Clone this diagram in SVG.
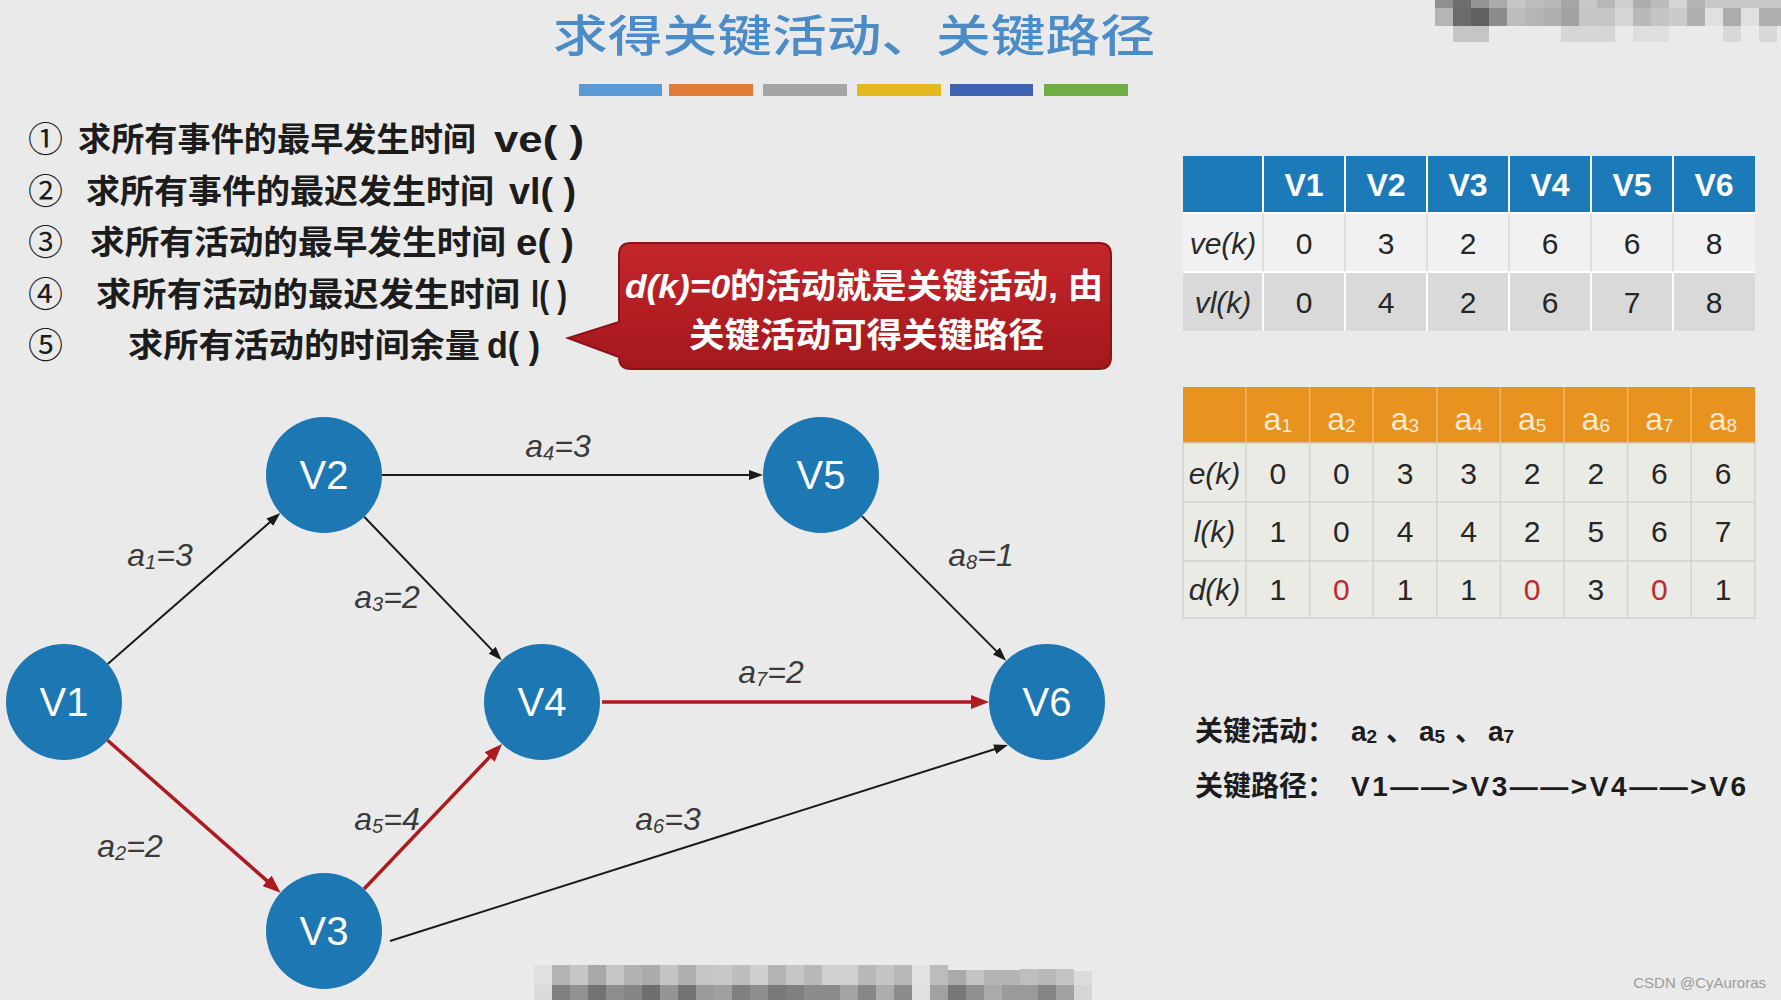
<svg xmlns="http://www.w3.org/2000/svg" width="1781" height="1000" viewBox="0 0 1781 1000">
<defs>
<style>
.cjk{font-family:"Noto Sans CJK SC","Noto Sans",sans-serif}
.lat{font-family:"Liberation Sans",Arial,"Noto Sans CJK SC",sans-serif}
.list{font-size:33px;font-weight:700;fill:#1c1c1c}
.num{font-size:35px;font-weight:400;fill:#1c1c1c}
.latl{font-size:37px;font-weight:700;fill:#1c1c1c}
.node circle{fill:#1c77b3}
.node text{font-family:"Liberation Sans",Arial,sans-serif;font-size:40px;fill:#ffffff;text-anchor:middle}
.edge{fill:none;stroke:#1a1a1a;stroke-width:2}
.edge.red{stroke:#ad1a1f;stroke-width:3.5}
.elab{font-family:"Liberation Sans",Arial,sans-serif;font-style:italic;font-size:32px;fill:#3a3a3a;text-anchor:middle}
.th1{font-family:"Liberation Sans",Arial,sans-serif;font-weight:700;font-size:32px;fill:#ffffff;text-anchor:middle}
.th2{font-family:"Liberation Sans",Arial,sans-serif;font-size:32px;fill:#f8ead0;text-anchor:middle}
.td{font-family:"Liberation Sans",Arial,sans-serif;font-size:30px;fill:#262626;text-anchor:middle}
.td .z{fill:#c0282e}
.rl{font-family:"Liberation Sans",Arial,sans-serif;font-style:italic;font-size:30px;fill:#2a2a2a;text-anchor:middle}
.res{font-size:28px;font-weight:700;fill:#1c1c1c}
</style>
<marker id="arrB" markerUnits="userSpaceOnUse" viewBox="0 0 14 10" markerWidth="14" markerHeight="10" refX="8" refY="5" orient="auto">
<path d="M0,0 L14,5 L0,10 z" fill="#1a1a1a"/>
</marker>
<marker id="arrR" markerUnits="userSpaceOnUse" viewBox="0 0 18 14" markerWidth="18" markerHeight="14" refX="10" refY="7" orient="auto">
<path d="M0,0 L18,7 L0,14 z" fill="#ad1a1f"/>
</marker>
<linearGradient id="calloutG" x1="0" y1="0" x2="0" y2="1">
<stop offset="0" stop-color="#c4262b"/>
<stop offset="1" stop-color="#a3181c"/>
</linearGradient>
</defs>

<rect width="1781" height="1000" fill="#eaeaea"/>

<!-- mosaic blurs -->
<g id="mosaic-top">
<g transform="translate(1435,0)">
<rect x="0" y="0" width="18" height="8" fill="#8f8f8f"/><rect x="18" y="0" width="18" height="8" fill="#6e6e6e"/><rect x="36" y="0" width="18" height="8" fill="#959595"/><rect x="54" y="0" width="18" height="8" fill="#ababab"/><rect x="72" y="0" width="18" height="8" fill="#c6c6c6"/><rect x="90" y="0" width="18" height="8" fill="#bcbcbc"/><rect x="108" y="0" width="18" height="8" fill="#b8b8b8"/><rect x="126" y="0" width="18" height="8" fill="#a6a6a6"/><rect x="144" y="0" width="18" height="8" fill="#c8c8c8"/><rect x="162" y="0" width="18" height="8" fill="#b8b8b8"/><rect x="180" y="0" width="18" height="8" fill="#cfcfcf"/><rect x="198" y="0" width="18" height="8" fill="#adadad"/><rect x="216" y="0" width="18" height="8" fill="#bbbbbb"/><rect x="234" y="0" width="18" height="8" fill="#d5d5d5"/><rect x="252" y="0" width="18" height="8" fill="#b3b3b3"/><rect x="270" y="0" width="76" height="8" fill="#c8c8c8"/>
<rect x="0" y="8" width="18" height="18" fill="#b5b5b5"/><rect x="18" y="8" width="18" height="18" fill="#6b6b6b"/><rect x="36" y="8" width="18" height="18" fill="#606060"/><rect x="54" y="8" width="18" height="18" fill="#8c8c8c"/><rect x="72" y="8" width="18" height="18" fill="#bdbdbd"/><rect x="90" y="8" width="18" height="18" fill="#b5b5b5"/><rect x="108" y="8" width="18" height="18" fill="#b0b0b0"/><rect x="126" y="8" width="18" height="18" fill="#a2a2a2"/><rect x="144" y="8" width="18" height="18" fill="#c6c6c6"/><rect x="162" y="8" width="18" height="18" fill="#c5c5c5"/><rect x="180" y="8" width="18" height="18" fill="#d6d6d6"/><rect x="198" y="8" width="18" height="18" fill="#b8b8b8"/><rect x="216" y="8" width="18" height="18" fill="#c4c4c4"/><rect x="234" y="8" width="18" height="18" fill="#cbcbcb"/><rect x="252" y="8" width="18" height="18" fill="#b0b0b0"/><rect x="270" y="8" width="18" height="18" fill="#e0e0e0"/><rect x="288" y="8" width="18" height="18" fill="#adadad"/><rect x="306" y="8" width="18" height="18" fill="#e0e0e0"/><rect x="324" y="8" width="22" height="18" fill="#b0b0b0"/>
<rect x="18" y="26" width="36" height="16" fill="#c5c5c5"/><rect x="126" y="26" width="54" height="16" fill="#d6d6d6"/><rect x="198" y="26" width="36" height="16" fill="#dedede"/><rect x="288" y="26" width="18" height="16" fill="#d8d8d8"/><rect x="324" y="26" width="18" height="16" fill="#d8d8d8"/>
</g>
</g>
<g id="mosaic-bottom">
<g transform="translate(534,965)">
<rect x="0" y="0" width="18" height="20" fill="#e0e0e0"/><rect x="18" y="0" width="18" height="20" fill="#b3b3b3"/><rect x="36" y="0" width="18" height="20" fill="#c6c6c6"/><rect x="54" y="0" width="18" height="20" fill="#a8a8a8"/><rect x="72" y="0" width="18" height="20" fill="#c6c6c6"/><rect x="90" y="0" width="18" height="20" fill="#b2b2b2"/><rect x="108" y="0" width="18" height="20" fill="#ababab"/><rect x="126" y="0" width="18" height="20" fill="#c4c4c4"/><rect x="144" y="0" width="18" height="20" fill="#b0b0b0"/><rect x="162" y="0" width="18" height="20" fill="#c6c6c6"/><rect x="180" y="0" width="18" height="20" fill="#c8c8c8"/><rect x="198" y="0" width="18" height="20" fill="#bdbdbd"/><rect x="216" y="0" width="18" height="20" fill="#cfcfcf"/><rect x="234" y="0" width="18" height="20" fill="#b3b3b3"/><rect x="252" y="0" width="18" height="20" fill="#c6c6c6"/><rect x="270" y="0" width="18" height="20" fill="#b8b8b8"/><rect x="288" y="0" width="36" height="20" fill="#d0d0d0"/><rect x="324" y="0" width="18" height="20" fill="#b8b8b8"/><rect x="342" y="0" width="18" height="20" fill="#c4c4c4"/><rect x="360" y="0" width="18" height="20" fill="#b8b8b8"/><rect x="378" y="0" width="18" height="20" fill="#e3e3e3"/><rect x="396" y="0" width="18" height="20" fill="#bcbcbc"/><rect x="414" y="5" width="18" height="15" fill="#aaaaaa"/><rect x="432" y="5" width="18" height="15" fill="#c4c4c4"/><rect x="450" y="5" width="36" height="15" fill="#b4b4b4"/><rect x="486" y="4" width="18" height="16" fill="#bebebe"/><rect x="504" y="4" width="18" height="16" fill="#b8b8b8"/><rect x="522" y="4" width="18" height="16" fill="#c4c4c4"/><rect x="540" y="6" width="18" height="14" fill="#dcdcdc"/>
<rect x="0" y="20" width="18" height="15" fill="#dadada"/><rect x="18" y="20" width="18" height="15" fill="#808080"/><rect x="36" y="20" width="18" height="15" fill="#929292"/><rect x="54" y="20" width="18" height="15" fill="#737373"/><rect x="72" y="20" width="18" height="15" fill="#8e8e8e"/><rect x="90" y="20" width="18" height="15" fill="#858585"/><rect x="108" y="20" width="18" height="15" fill="#6e6e6e"/><rect x="126" y="20" width="18" height="15" fill="#959595"/><rect x="144" y="20" width="18" height="15" fill="#737373"/><rect x="162" y="20" width="18" height="15" fill="#9b9b9b"/><rect x="180" y="20" width="18" height="15" fill="#a0a0a0"/><rect x="198" y="20" width="18" height="15" fill="#808080"/><rect x="216" y="20" width="18" height="15" fill="#8e8e8e"/><rect x="234" y="20" width="18" height="15" fill="#7a7a7a"/><rect x="252" y="20" width="18" height="15" fill="#808080"/><rect x="270" y="20" width="36" height="15" fill="#8c8c8c"/><rect x="306" y="20" width="18" height="15" fill="#a3a3a3"/><rect x="324" y="20" width="18" height="15" fill="#878787"/><rect x="342" y="20" width="18" height="15" fill="#adadad"/><rect x="360" y="20" width="18" height="15" fill="#8c8c8c"/><rect x="378" y="20" width="18" height="15" fill="#e0e0e0"/><rect x="396" y="20" width="18" height="15" fill="#a1a1a1"/><rect x="414" y="20" width="18" height="15" fill="#787878"/><rect x="432" y="20" width="18" height="15" fill="#8f8f8f"/><rect x="450" y="20" width="18" height="15" fill="#ababab"/><rect x="468" y="20" width="36" height="15" fill="#9a9a9a"/><rect x="504" y="20" width="18" height="15" fill="#858585"/><rect x="522" y="20" width="18" height="15" fill="#a2a2a2"/><rect x="540" y="20" width="18" height="15" fill="#d5d5d5"/>
</g>
</g>

<!-- title -->
<g id="title">
<text class="cjk" x="553" y="52" font-size="44.5" font-weight="500" fill="#4b8bc6" textLength="602" lengthAdjust="spacingAndGlyphs">求得关键活动、关键路径</text>
<rect x="579" y="84" width="83" height="12" fill="#5b9bd5"/>
<rect x="669" y="84" width="84" height="12" fill="#e07b39"/>
<rect x="763" y="84" width="84" height="12" fill="#a5a5a5"/>
<rect x="857" y="84" width="84" height="12" fill="#e6b820"/>
<rect x="950" y="84" width="83" height="12" fill="#3f62b3"/>
<rect x="1044" y="84" width="84" height="12" fill="#6fae45"/>
</g>

<!-- steps list -->
<g id="steps">
<text class="cjk num" x="28" y="152">①</text>
<text class="cjk list" x="78" y="151" textLength="398" lengthAdjust="spacingAndGlyphs">求所有事件的最早发生时间</text>
<text class="lat latl" x="494" y="152" textLength="90" lengthAdjust="spacingAndGlyphs">ve( )</text>
<text class="cjk num" x="28" y="203.5">②</text>
<text class="cjk list" x="86" y="202.5" textLength="408" lengthAdjust="spacingAndGlyphs">求所有事件的最迟发生时间</text>
<text class="lat latl" x="509" y="203.5" textLength="67" lengthAdjust="spacingAndGlyphs">vl( )</text>
<text class="cjk num" x="28" y="255">③</text>
<text class="cjk list" x="90" y="254" textLength="416" lengthAdjust="spacingAndGlyphs">求所有活动的最早发生时间</text>
<text class="lat latl" x="516" y="255" textLength="58" lengthAdjust="spacingAndGlyphs">e( )</text>
<text class="cjk num" x="28" y="306.5">④</text>
<text class="cjk list" x="96" y="305.5" textLength="424" lengthAdjust="spacingAndGlyphs">求所有活动的最迟发生时间</text>
<text class="lat latl" x="531" y="306.5" textLength="36" lengthAdjust="spacingAndGlyphs">l( )</text>
<text class="cjk num" x="28" y="358">⑤</text>
<text class="cjk list" x="128" y="357" textLength="352" lengthAdjust="spacingAndGlyphs">求所有活动的时间余量</text>
<text class="lat latl" x="487" y="358" textLength="53" lengthAdjust="spacingAndGlyphs">d( )</text>
</g>

<!-- callout -->
<g id="callout">
<path d="M631,243 H1099 Q1111,243 1111,255 V357 Q1111,369 1099,369 H631 Q619,369 619,357 L568,338 L619,322 V255 Q619,243 631,243 Z" fill="url(#calloutG)" stroke="#8a1317" stroke-width="2"/>
<text class="cjk" x="625" y="298" font-size="34" font-weight="700" fill="#ffffff" textLength="478" lengthAdjust="spacingAndGlyphs"><tspan class="lat" font-style="italic">d(k)=0</tspan>的活动就是关键活动<tspan class="lat">, </tspan>由</text>
<text class="cjk" x="689" y="347" font-size="34" font-weight="700" fill="#ffffff" textLength="355" lengthAdjust="spacingAndGlyphs">关键活动可得关键路径</text>
</g>

<!-- connectors -->
<g id="connectors">
<line id="e-a1" class="edge" x1="107.7" y1="663.9" x2="275.8" y2="517" marker-end="url(#arrB)"/>
<line id="e-a2" class="edge red" x1="107.5" y1="740.3" x2="274.5" y2="887.4" marker-end="url(#arrR)"/>
<line id="e-a3" class="edge" x1="364.2" y1="516.8" x2="497.6" y2="655.9" marker-end="url(#arrB)"/>
<line id="e-a4" class="edge" x1="382" y1="475" x2="757" y2="475" marker-end="url(#arrB)"/>
<line id="e-a5" class="edge red" x1="364" y1="889" x2="496.5" y2="749.8" marker-end="url(#arrR)"/>
<line id="e-a6" class="edge" x1="390" y1="941" x2="1002.3" y2="746.8" marker-end="url(#arrB)"/>
<line id="e-a7" class="edge red" x1="602" y1="702" x2="981" y2="702" marker-end="url(#arrR)"/>
<line id="e-a8" class="edge" x1="861.9" y1="516.1" x2="1001.9" y2="656.6" marker-end="url(#arrB)"/>
<text class="elab" x="160" y="566">a<tspan font-size="20" dy="3">1</tspan><tspan dy="-3">=3</tspan></text>
<text class="elab" x="130" y="857">a<tspan font-size="20" dy="3">2</tspan><tspan dy="-3">=2</tspan></text>
<text class="elab" x="387" y="608">a<tspan font-size="20" dy="3">3</tspan><tspan dy="-3">=2</tspan></text>
<text class="elab" x="558" y="457">a<tspan font-size="20" dy="3">4</tspan><tspan dy="-3">=3</tspan></text>
<text class="elab" x="387" y="830">a<tspan font-size="20" dy="3">5</tspan><tspan dy="-3">=4</tspan></text>
<text class="elab" x="668" y="830">a<tspan font-size="20" dy="3">6</tspan><tspan dy="-3">=3</tspan></text>
<text class="elab" x="771" y="683">a<tspan font-size="20" dy="3">7</tspan><tspan dy="-3">=2</tspan></text>
<text class="elab" x="981" y="566">a<tspan font-size="20" dy="3">8</tspan><tspan dy="-3">=1</tspan></text>
</g>

<!-- nodes -->
<g id="V1" class="node"><circle cx="64" cy="702" r="58"/><text x="64" y="716">V1</text></g>
<g id="V2" class="node"><circle cx="324" cy="475" r="58"/><text x="324" y="489">V2</text></g>
<g id="V3" class="node"><circle cx="324" cy="931" r="58"/><text x="324" y="945">V3</text></g>
<g id="V4" class="node"><circle cx="542" cy="702" r="58"/><text x="542" y="716">V4</text></g>
<g id="V5" class="node"><circle cx="821" cy="475" r="58"/><text x="821" y="489">V5</text></g>
<g id="V6" class="node"><circle cx="1047" cy="702" r="58"/><text x="1047" y="716">V6</text></g>

<!-- table 1: event times -->
<g id="table-events">
<rect x="1183" y="156" width="572" height="57" fill="#1b7ab7"/>
<rect x="1183" y="213" width="572" height="59" fill="#f1f1f1"/>
<rect x="1183" y="272" width="572" height="59" fill="#d9d9d9"/>
<g stroke="#ffffff" stroke-width="2">
<line x1="1263" y1="156" x2="1263" y2="331"/><line x1="1345" y1="156" x2="1345" y2="331"/><line x1="1427" y1="156" x2="1427" y2="331"/><line x1="1509" y1="156" x2="1509" y2="331"/><line x1="1591" y1="156" x2="1591" y2="331"/><line x1="1673" y1="156" x2="1673" y2="331"/>
<line x1="1183" y1="213" x2="1755" y2="213"/><line x1="1183" y1="272" x2="1755" y2="272"/>
</g>
<g stroke="#d2d2d2" stroke-width="1.5">
<line x1="1263" y1="214" x2="1263" y2="271"/><line x1="1345" y1="214" x2="1345" y2="271"/><line x1="1427" y1="214" x2="1427" y2="271"/><line x1="1509" y1="214" x2="1509" y2="271"/><line x1="1591" y1="214" x2="1591" y2="271"/><line x1="1673" y1="214" x2="1673" y2="271"/>
</g>
<text class="th1" x="1304" y="196">V1</text><text class="th1" x="1386" y="196">V2</text><text class="th1" x="1468" y="196">V3</text><text class="th1" x="1550" y="196">V4</text><text class="th1" x="1632" y="196">V5</text><text class="th1" x="1714" y="196">V6</text>
<text class="rl" x="1223" y="254">ve(k)</text>
<text class="rl" x="1223" y="313">vl(k)</text>
<g class="td">
<text x="1304" y="254">0</text><text x="1386" y="254">3</text><text x="1468" y="254">2</text><text x="1550" y="254">6</text><text x="1632" y="254">6</text><text x="1714" y="254">8</text>
<text x="1304" y="313">0</text><text x="1386" y="313">4</text><text x="1468" y="313">2</text><text x="1550" y="313">6</text><text x="1632" y="313">7</text><text x="1714" y="313">8</text>
</g>
</g>

<!-- table 2: activity times -->
<g id="table-activities">
<rect x="1183" y="387" width="572" height="56" fill="#e8921f"/>
<rect x="1183" y="443" width="572" height="175" fill="#ebebe6"/>
<g stroke="#f2b766" stroke-width="1.5">
<line x1="1246" y1="387" x2="1246" y2="443"/><line x1="1309.6" y1="387" x2="1309.6" y2="443"/><line x1="1373.2" y1="387" x2="1373.2" y2="443"/><line x1="1436.8" y1="387" x2="1436.8" y2="443"/><line x1="1500.4" y1="387" x2="1500.4" y2="443"/><line x1="1564" y1="387" x2="1564" y2="443"/><line x1="1627.6" y1="387" x2="1627.6" y2="443"/><line x1="1691.2" y1="387" x2="1691.2" y2="443"/>
</g>
<g stroke="#d3d3cc" stroke-width="1.5">
<line x1="1246" y1="443" x2="1246" y2="618"/><line x1="1309.6" y1="443" x2="1309.6" y2="618"/><line x1="1373.2" y1="443" x2="1373.2" y2="618"/><line x1="1436.8" y1="443" x2="1436.8" y2="618"/><line x1="1500.4" y1="443" x2="1500.4" y2="618"/><line x1="1564" y1="443" x2="1564" y2="618"/><line x1="1627.6" y1="443" x2="1627.6" y2="618"/><line x1="1691.2" y1="443" x2="1691.2" y2="618"/>
<line x1="1183" y1="502" x2="1755" y2="502"/><line x1="1183" y1="561" x2="1755" y2="561"/>
<rect x="1183" y="443" width="572" height="175" fill="none"/>
</g>
<text class="th2" x="1277.8" y="430">a<tspan font-size="19" dy="2">1</tspan></text>
<text class="th2" x="1341.4" y="430">a<tspan font-size="19" dy="2">2</tspan></text>
<text class="th2" x="1405" y="430">a<tspan font-size="19" dy="2">3</tspan></text>
<text class="th2" x="1468.6" y="430">a<tspan font-size="19" dy="2">4</tspan></text>
<text class="th2" x="1532.2" y="430">a<tspan font-size="19" dy="2">5</tspan></text>
<text class="th2" x="1595.8" y="430">a<tspan font-size="19" dy="2">6</tspan></text>
<text class="th2" x="1659.4" y="430">a<tspan font-size="19" dy="2">7</tspan></text>
<text class="th2" x="1723" y="430">a<tspan font-size="19" dy="2">8</tspan></text>
<text class="rl" x="1214.5" y="484">e(k)</text>
<text class="rl" x="1214.5" y="542">l(k)</text>
<text class="rl" x="1214.5" y="600">d(k)</text>
<g class="td">
<text x="1277.8" y="484">0</text><text x="1341.4" y="484">0</text><text x="1405" y="484">3</text><text x="1468.6" y="484">3</text><text x="1532.2" y="484">2</text><text x="1595.8" y="484">2</text><text x="1659.4" y="484">6</text><text x="1723" y="484">6</text>
<text x="1277.8" y="542">1</text><text x="1341.4" y="542">0</text><text x="1405" y="542">4</text><text x="1468.6" y="542">4</text><text x="1532.2" y="542">2</text><text x="1595.8" y="542">5</text><text x="1659.4" y="542">6</text><text x="1723" y="542">7</text>
<text x="1277.8" y="600">1</text><text class="z" x="1341.4" y="600">0</text><text x="1405" y="600">1</text><text x="1468.6" y="600">1</text><text class="z" x="1532.2" y="600">0</text><text x="1595.8" y="600">3</text><text class="z" x="1659.4" y="600">0</text><text x="1723" y="600">1</text>
</g>
</g>

<!-- result -->
<g id="result">
<text class="cjk res" x="1195" y="741">关键活动：</text>
<text class="lat res" x="1351" y="741">a<tspan font-size="19" dy="2">2</tspan></text>
<text class="cjk res" x="1386" y="741">、</text>
<text class="lat res" x="1419" y="741">a<tspan font-size="19" dy="2">5</tspan></text>
<text class="cjk res" x="1455" y="741">、</text>
<text class="lat res" x="1488" y="741">a<tspan font-size="19" dy="2">7</tspan></text>
<text class="cjk res" x="1195" y="796">关键路径：</text>
<text class="lat res" x="1351" y="796" textLength="395" lengthAdjust="spacing">V1——&gt;V3——&gt;V4——&gt;V6</text>
</g>

<text id="watermark" class="lat" x="1766" y="988" font-size="15" fill="#9c9c9c" text-anchor="end">CSDN @CyAuroras</text>
</svg>
